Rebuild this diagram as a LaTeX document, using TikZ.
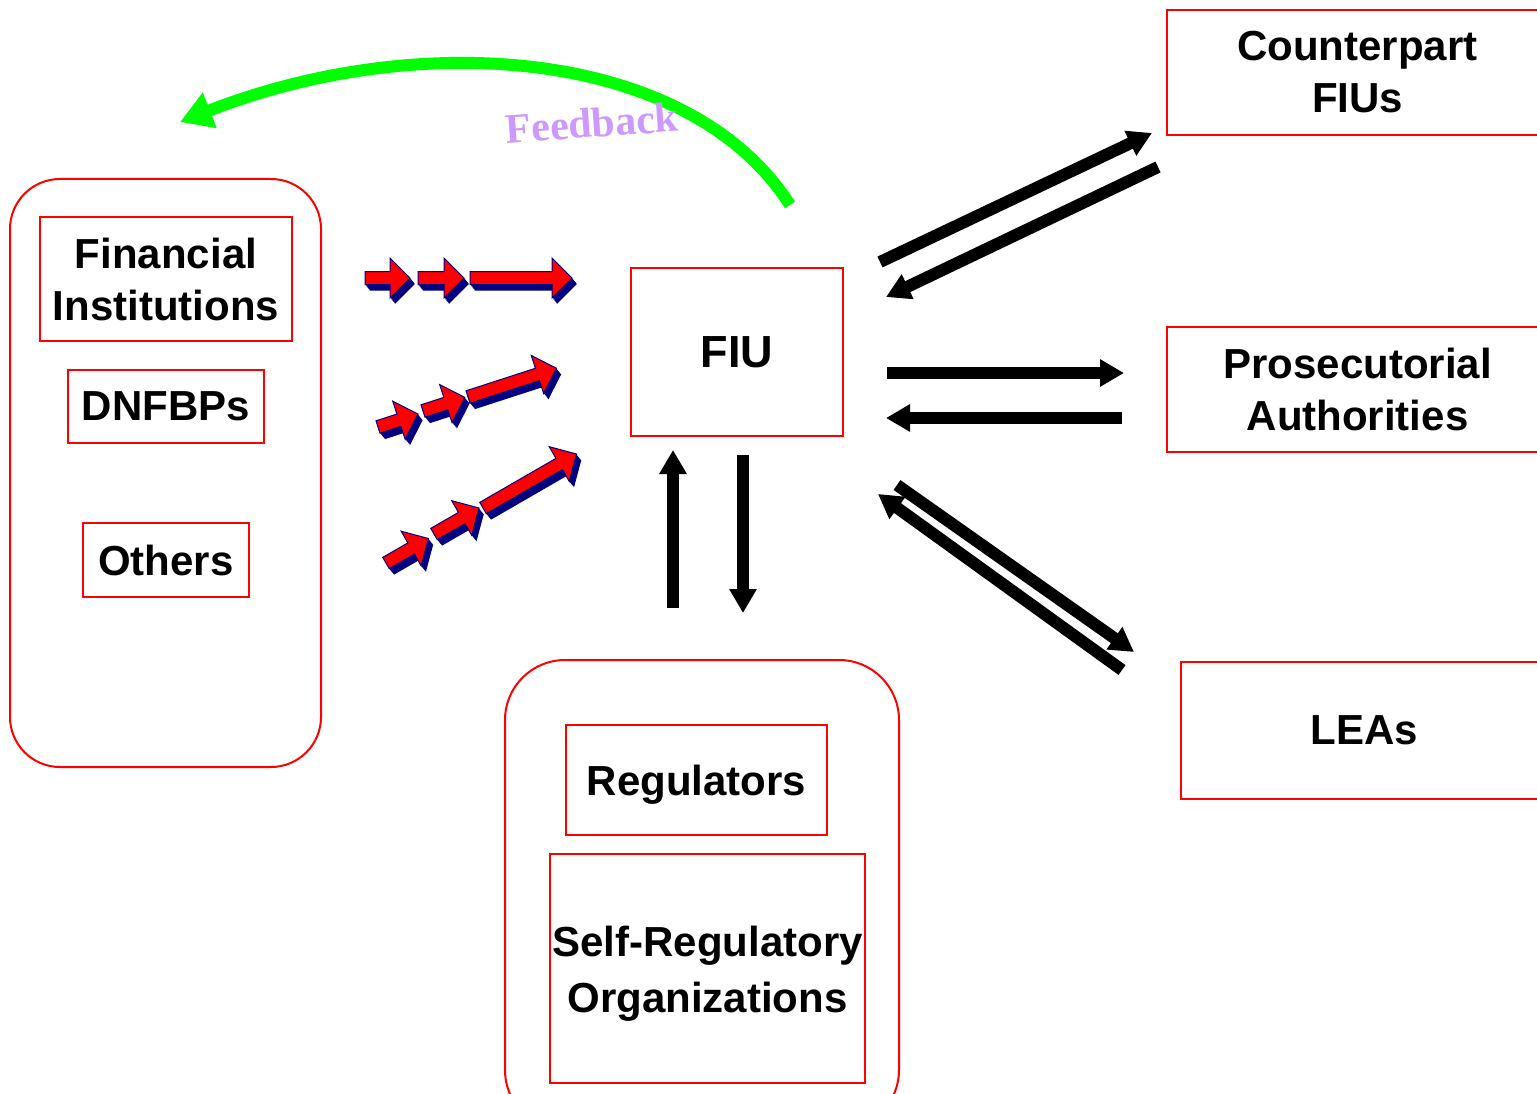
\documentclass[tikz,border=0pt]{standalone}
\usepackage{fontspec}
\setmainfont{Liberation Sans}
\newfontfamily\fbfont{Liberation Serif}
\usetikzlibrary{arrows.meta}
\definecolor{navyc}{RGB}{0,0,128}
\definecolor{feedc}{RGB}{204,153,255}
\definecolor{greenc}{RGB}{0,255,0}
\newcommand{\arrshape}[1]{(0,-6.5)--(#1-20,-6.5)--(#1-20,-20)--(#1,0)--(#1-20,20)--(#1-20,6.5)--(0,6.5)--cycle}
\newcommand{\redarr}[4]{%
  \foreach \s in {6,5,4,3,2,1}{%
    \begin{scope}[shift={(#1+0.8*\s,#2+\s)},rotate=#3]
      \fill[navyc] \arrshape{#4};
    \end{scope}}%
  \begin{scope}[shift={(#1,#2)},rotate=#3]
    \filldraw[fill=red,draw=navyc,line width=1] \arrshape{#4};
  \end{scope}}
\tikzset{
  box/.style={draw=red,line width=2,inner sep=0,align=center,font=\fontsize{42}{52}\selectfont\bfseries},
  group/.style={draw=red,line width=2,rounded corners=55},
  blk/.style={line width=12,-{Triangle[length=24,width=26]}},
}
\begin{document}
\begin{tikzpicture}[x=1pt,y=-1pt]
\clip (0,0) rectangle (1537,1094);
\fill[white] (0,0) rectangle (1537,1094);
% groups
\draw[group,rounded corners=50] (10,179) rectangle (321,767);
\draw[group,rounded corners=60] (505,660) rectangle (899,1130);
% nodes
\node[box,minimum width=252,minimum height=124] (fi) at (166,279) {Financial\\Institutions};
\node[box,minimum width=196,minimum height=73] (dnfbp) at (166,406.5) {DNFBPs};
\node[box,minimum width=166,minimum height=74] (oth) at (166,560) {Others};
\node[box,minimum width=212,minimum height=168,font=\fontsize{45}{52}\selectfont\bfseries] (fiu) at (737,352) {FIU};
\node[box,minimum width=381,minimum height=125] (cfiu) at (1357.5,72.5) {Counterpart\\FIUs};
\node[box,minimum width=381,minimum height=125] (pros) at (1357.5,389.5) {Prosecutorial\\Authorities};
\node[box,minimum width=367,minimum height=137] (lea) at (1364.5,730) {LEAs};
\node[box,minimum width=261,minimum height=110] (reg) at (696.5,780) {};
\node[font=\fontsize{42}{52}\selectfont\bfseries,inner sep=0] (regt) at (696.5,785) {Regulators};
\node[box,minimum width=315,minimum height=229] (sro) at (707.5,968.5) {};
\node[font=\fontsize{42}{56}\selectfont\bfseries,align=center,inner sep=0] (srot) at (707.5,973.5) {Self-Regulatory\\Organizations};
% connector end points
\coordinate (a1s) at (880,262); \coordinate (a1e) at (1152,133);
\coordinate (a2s) at (1158,167); \coordinate (a2e) at (886,297);
\coordinate (a3s) at (887,373); \coordinate (a3e) at (1124,373);
\coordinate (a4s) at (1122,418); \coordinate (a4e) at (886,418);
\coordinate (a5s) at (897,485); \coordinate (a5e) at (1134,652);
\coordinate (a6s) at (1122,670); \coordinate (a6e) at (878,494);
\coordinate (a7s) at (673,608); \coordinate (a7e) at (673,450);
\coordinate (a8s) at (743,455); \coordinate (a8e) at (743,613);
\draw[blk] (a1s) -- (a1e);
\draw[blk] (a2s) -- (a2e);
\draw[blk] (a3s) -- (a3e);
\draw[blk] (a4s) -- (a4e);
\draw[blk] (a5s) -- (a5e);
\draw[blk] (a6s) -- (a6e);
\draw[blk] (a7s) -- (a7e);
\draw[blk] (a8s) -- (a8e);
% feedback
\coordinate (fbs) at (790,205); \coordinate (fbe) at (180,122);
\draw[greenc,line width=12,-{Triangle[length=32,width=36]}] (fbs) .. controls (690,48) and (420,28) .. (fbe);
\node[text=feedc,font=\fontsize{42}{48}\fbfont\bfseries,rotate=4,inner sep=0] (fb) at (592,123) {Feedback};
% red 3d arrows
\redarr{365}{278}{0}{45}
\redarr{418}{278}{0}{46}
\redarr{470}{278}{0}{102}
\redarr{378}{427}{18}{42}
\redarr{423}{411}{18}{44}
\redarr{468}{397}{18}{93}
\redarr{386}{563}{30}{49}
\redarr{434}{534}{30}{52}
\redarr{483}{508}{30}{108}
\end{tikzpicture}
\end{document}
